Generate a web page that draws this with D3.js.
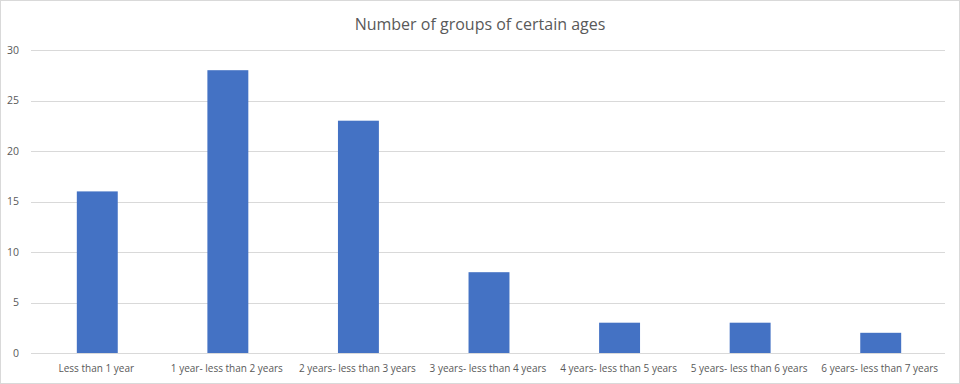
<!DOCTYPE html>
<html>
<head>
<meta charset="utf-8">
<script src="https://cdn.jsdelivr.net/npm/d3@7"></script>
<style>
  body { margin: 0; background: #fff; }
  text { font-family: "Open Sans", "Noto Sans", sans-serif; fill: #595959; }
</style>
</head>
<body>
<svg id="chart" width="960" height="384"></svg>
<script>
const categories = [
  "Less than 1 year",
  "1 year- less than 2 years",
  "2 years- less than 3 years",
  "3 years- less than 4 years",
  "4 years- less than 5 years",
  "5 years- less than 6 years",
  "6 years- less than 7 years"
];
const groupCounts = [16, 28, 23, 8, 3, 3, 2];
const yTicks = [0, 5, 10, 15, 20, 25, 30];

const W = 960, H = 384;
const margin = { top: 50, right: 15, bottom: 31, left: 31 };

const svg = d3.select("#chart");

// outer chart border
svg.append("rect")
  .attr("x", 0.5).attr("y", 0.5)
  .attr("width", W - 1).attr("height", H - 1)
  .attr("fill", "#fff")
  .attr("stroke", "#d9d9d9");

const x = d3.scaleBand()
  .domain(categories)
  .range([margin.left, W - margin.right])
  .padding(0);

const y = d3.scaleLinear()
  .domain([0, 30])
  .range([H - margin.bottom, margin.top]);

// gridlines
svg.append("g")
  .selectAll("line")
  .data(yTicks)
  .join("line")
  .attr("x1", margin.left)
  .attr("x2", W - margin.right)
  .attr("y1", d => Math.round(y(d)) + 0.5)
  .attr("y2", d => Math.round(y(d)) + 0.5)
  .attr("stroke", "#d9d9d9");

// y tick labels
svg.append("g")
  .selectAll("text")
  .data(yTicks)
  .join("text")
  .attr("x", 19)
  .attr("y", d => y(d))
  .attr("dy", "0.35em")
  .attr("text-anchor", "end")
  .style("font-size", "10.5px")
  .text(d => d);

// bars, gap width ~219% like excel
const barW = x.bandwidth() / 3.19;
svg.append("g")
  .selectAll("rect")
  .data(groupCounts)
  .join("rect")
  .attr("x", (d, i) => x(categories[i]) + x.bandwidth() / 2 - barW / 2 + 1)
  .attr("y", d => y(d))
  .attr("width", barW)
  .attr("height", d => y(0) - y(d))
  .attr("fill", "#4472c4");

// category labels
svg.append("g")
  .selectAll("text")
  .data(categories)
  .join("text")
  .attr("x", d => x(d) + x.bandwidth() / 2)
  .attr("y", H - margin.bottom + 15)
  .attr("dy", "0.35em")
  .attr("text-anchor", "middle")
  .style("font-size", "10px")
  .text(d => d);

// title
svg.append("text")
  .attr("x", W / 2)
  .attr("y", 24)
  .attr("dy", "0.35em")
  .attr("text-anchor", "middle")
  .style("font-size", "16px")
  .text("Number of groups of certain ages");
</script>
</body>
</html>
